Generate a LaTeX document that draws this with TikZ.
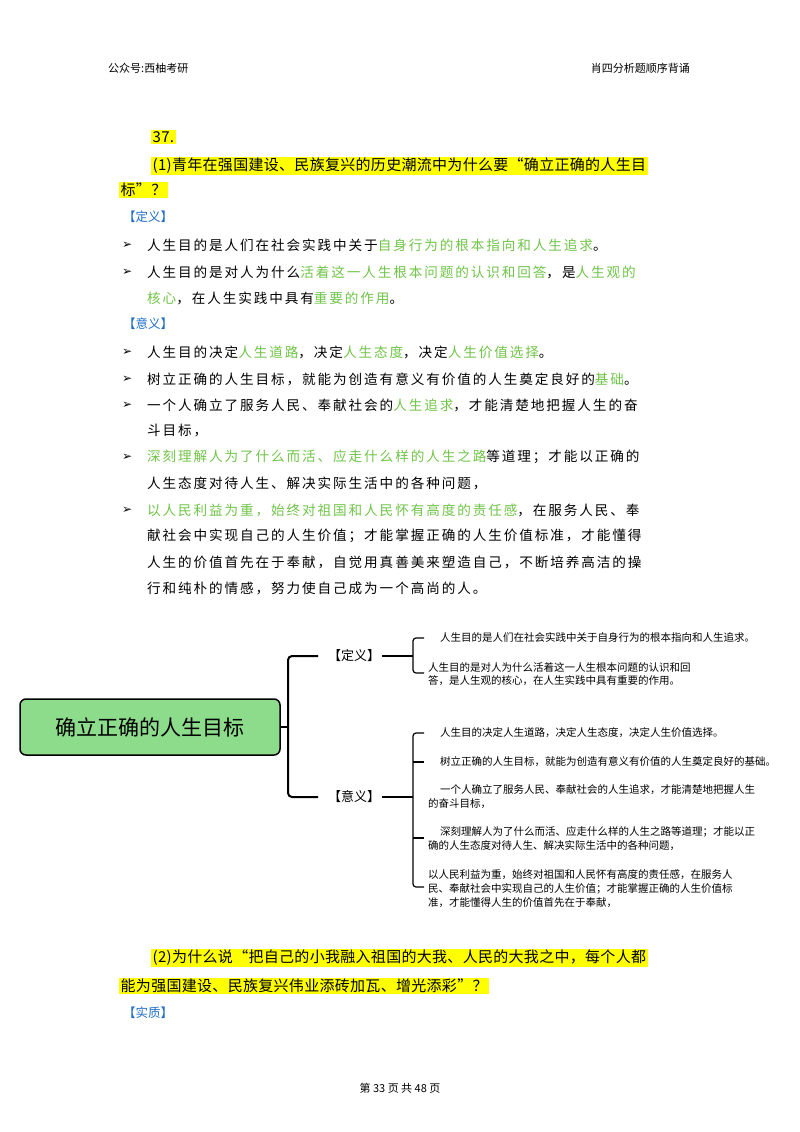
\documentclass[tikz,border=0pt]{standalone}
\usepackage{fontspec}
\setmainfont{Noto Sans CJK SC}
\newfontfamily\bodyf[LetterSpace=14]{Noto Sans CJK SC}
\newfontfamily\qf[LetterSpace=2]{Noto Sans CJK SC}
\newfontfamily\mapf{Noto Sans CJK SC}
\newfontfamily\symf{DejaVu Sans}
\definecolor{gtxt}{RGB}{112,196,72}
\definecolor{btxt}{RGB}{30,110,200}
\definecolor{hl}{RGB}{255,255,0}
\definecolor{boxg}{RGB}{140,220,140}
\newcommand{\gr}[1]{\textcolor{gtxt}{#1}}
\tikzset{
 ln/.style={anchor=west,inner sep=0pt,font=\fontsize{13.6}{15}\bodyf},
 qn/.style={anchor=west,inner sep=1.5pt,fill=hl,font=\fontsize{15}{17}\qf},
 hd/.style={anchor=west,inner sep=0pt,font=\fontsize{12.5}{14}\selectfont\color{btxt}},
 bl/.style={anchor=west,inner sep=0pt,font=\fontsize{12}{14}\symf},
 mp/.style={anchor=west,inner sep=0pt,font=\fontsize{10.5}{11}\mapf},
 br/.style={line width=2pt,rounded corners=4pt},
 sm/.style={line width=1.2pt,rounded corners=3pt}
}
\begin{document}
\begin{tikzpicture}[x=1pt,y=-1pt]
\useasboundingbox (0,0) rectangle (800,1132);
\fill[white] (0,0) rectangle (800,1132);
\node[anchor=west,inner sep=0,font=\fontsize{11}{12}\selectfont] (h1) at (108,68) {公众号:西柚考研};
\node[anchor=east,inner sep=0,font=\fontsize{11}{12}\selectfont] (h2) at (690,68) {肖四分析题顺序背诵};
\node[qn] (n37) at (151,137) {37.};
\node[qn] (q1) at (151,166) {(1)青年在强国建设、民族复兴的历史潮流中为什么要“确立正确的人生目};
\node[qn] (q1b) at (119,190) {标”？};
\node[hd] (d1) at (123,217) {【定义】};
\foreach \y in {245,272,352,379,405,457,510}{\node[bl] at (122,\y) {➢};}
\node[ln] (a1) at (147,245) {人生目的是人们在社会实践中关于\gr{自身行为的根本指向和人生追求}。};
\node[ln] (a2) at (147,272) {人生目的是对人为什么\gr{活着这一人生根本问题的认识和回答}，是\gr{人生观的}};
\node[ln] (a3) at (147,298) {\gr{核心}，在人生实践中具有\gr{重要的作用}。};
\node[hd] (d2) at (123,324) {【意义】};
\node[ln] (b1) at (147,352) {人生目的决定\gr{人生道路}，决定\gr{人生态度}，决定\gr{人生价值选择}。};
\node[ln] (b2) at (147,379) {树立正确的人生目标，就能为创造有意义有价值的人生奠定良好的\gr{基础}。};
\node[ln] (b3) at (147,405) {一个人确立了服务人民、奉献社会的\gr{人生追求}，才能清楚地把握人生的奋};
\node[ln] (b4) at (147,431) {斗目标，};
\node[ln] (b5) at (147,457) {\gr{深刻理解人为了什么而活、应走什么样的人生之路}等道理；才能以正确的};
\node[ln] (b6) at (147,483) {人生态度对待人生、解决实际生活中的各种问题，};
\node[ln] (b7) at (147,510) {\gr{以人民利益为重，始终对祖国和人民怀有高度的责任感}，在服务人民、奉};
\node[ln] (b8) at (147,536) {献社会中实现自己的人生价值；才能掌握正确的人生价值标准，才能懂得};
\node[ln] (b9) at (147,562) {人生的价值首先在于奉献，自觉用真善美来塑造自己，不断培养高洁的操};
\node[ln] (b10) at (147,588) {行和纯朴的情感，努力使自己成为一个高尚的人。};
% mind map
\node[draw=black,line width=1.5pt,fill=boxg,rounded corners=6pt,minimum width=260pt,minimum height=56pt,font=\fontsize{21}{24}\selectfont] (root) at (150,727) {确立正确的人生目标};
\node[anchor=west,inner sep=0,font=\fontsize{13}{14}\selectfont] (k1) at (328,656) {【定义】};
\node[anchor=west,inner sep=0,font=\fontsize{13}{14}\selectfont] (k2) at (328,797) {【意义】};
\coordinate (j0) at (288,727);
\draw[line width=2pt] (root.east) -- (j0);
\draw[br] (318,656) -- (288,656) -- (288,797) -- (318,797);
\draw[line width=1.5pt] (k1.east) ++(2,0) -- (413,656);
\draw[sm] (424,638) -- (413,638) -- (413,673) -- (424,673);
\draw[line width=1.5pt] (k2.east) ++(2,0) -- (413,797);
\draw[sm] (424,733) -- (413,733) -- (413,887) -- (424,887);
\draw[sm] (413,762) -- (424,762);
\draw[sm] (413,838) -- (424,838);
\node[mp] (m1) at (440,638) {人生目的是人们在社会实践中关于自身行为的根本指向和人生追求。};
\node[mp] (m2) at (428,667) {人生目的是对人为什么活着这一人生根本问题的认识和回};
\node[mp] (m2b) at (428,681) {答，是人生观的核心，在人生实践中具有重要的作用。};
\node[mp] (m3) at (440,733) {人生目的决定人生道路，决定人生态度，决定人生价值选择。};
\node[mp] (m4) at (440,762) {树立正确的人生目标，就能为创造有意义有价值的人生奠定良好的基础。};
\node[mp] (m5) at (440,790) {一个人确立了服务人民、奉献社会的人生追求，才能清楚地把握人生};
\node[mp] (m5b) at (428,804) {的奋斗目标，};
\node[mp] (m6) at (440,832) {深刻理解人为了什么而活、应走什么样的人生之路等道理；才能以正};
\node[mp] (m6b) at (428,846) {确的人生态度对待人生、解决实际生活中的各种问题，};
\node[mp] (m7) at (428,875) {以人民利益为重，始终对祖国和人民怀有高度的责任感，在服务人};
\node[mp] (m7b) at (428,889) {民、奉献社会中实现自己的人生价值；才能掌握正确的人生价值标};
\node[mp] (m7c) at (428,903) {准，才能懂得人生的价值首先在于奉献，};
% bottom
\node[qn] (q2) at (151,958) {(2)为什么说“把自己的小我融入祖国的大我、人民的大我之中，每个人都};
\node[qn] (q2b) at (119,986) {能为强国建设、民族复兴伟业添砖加瓦、增光添彩”？};
\node[hd] (d3) at (123,1013) {【实质】};
\node[inner sep=0,font=\fontsize{11}{12}\selectfont] (ft) at (400,1088) {第 33 页 共 48 页};
\end{tikzpicture}
\end{document}
